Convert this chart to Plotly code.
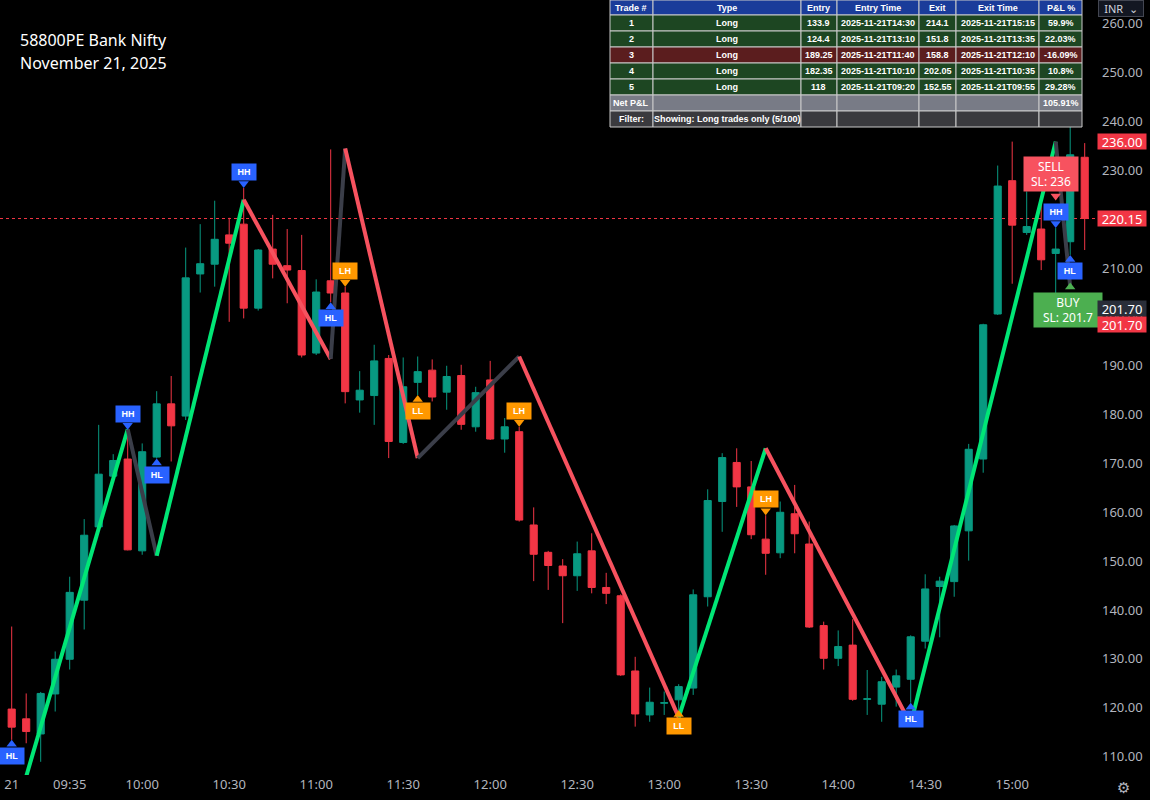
import plotly.graph_objects as go
import pandas as pd

# ---------------- data ----------------
bar_times = pd.date_range("2025-11-21 09:15", periods=75, freq="5min")

opens = [119.7, 117.7, 114.6, 122.8, 129.9, 142.0, 157.0, 167.4, 170.9, 152.1,
         171.3, 182.2, 179.7, 208.8, 210.8, 216.8, 219.0, 201.8, 213.9, 210.5,
         209.5, 192.6, 207.4, 204.9, 183.0, 183.9, 191.5, 174.3, 186.6, 189.1,
         184.6, 188.0, 177.5, 187.1, 175.0, 176.5, 157.4, 151.8, 149.0, 147.0,
         152.1, 144.6, 142.9, 127.5, 118.5, 120.9, 121.6, 124.0, 142.7, 162.2,
         170.2, 165.2, 154.5, 151.7, 159.7, 153.5, 136.8, 130.1, 132.8, 121.7,
         120.7, 124.2, 125.8, 133.6, 144.8, 145.8, 156.2, 170.9, 200.6, 227.9,
         217.3, 218.0, 213.0, 215.4, 232.7]
highs = [136.6, 122.9, 123.2, 131.5, 146.8, 158.6, 177.9, 171.9, 176.9, 174.1,
         184.8, 187.9, 214.2, 219.0, 223.8, 220.3, 226.4, 213.9, 220.9, 218.0,
         216.8, 207.7, 234.3, 206.2, 188.9, 194.3, 192.2, 191.7, 191.9, 191.3,
         190.0, 190.2, 185.7, 191.0, 179.3, 177.5, 161.0, 152.1, 150.4, 154.0,
         155.7, 147.6, 143.2, 130.4, 124.1, 123.3, 124.8, 144.2, 164.7, 172.1,
         173.1, 170.5, 159.4, 162.2, 165.6, 158.1, 137.6, 135.8, 138.1, 127.7,
         126.3, 127.8, 134.8, 147.3, 146.8, 157.4, 174.0, 198.6, 231.0, 235.9,
         225.7, 224.8, 218.2, 240.0, 235.6]
lows = [113.4, 112.7, 108.9, 119.2, 127.8, 136.0, 156.5, 167.0, 152.2, 151.3,
        171.0, 170.4, 178.9, 205.0, 206.2, 199.0, 199.7, 201.3, 207.9, 202.8,
        191.7, 192.2, 203.0, 182.3, 180.4, 177.9, 171.1, 174.0, 184.0, 182.7,
        181.0, 176.9, 176.5, 174.8, 172.2, 158.1, 145.9, 144.1, 137.3, 143.9,
        143.4, 141.2, 126.5, 116.1, 117.1, 118.5, 119.5, 122.6, 140.7, 156.0,
        161.1, 154.5, 147.2, 150.6, 151.6, 136.3, 127.8, 128.5, 121.4, 118.5,
        117.1, 120.2, 121.0, 132.1, 134.4, 142.7, 150.1, 168.1, 200.4, 206.8,
        216.8, 209.6, 201.7, 212.7, 213.7]
closes = [116.0, 115.1, 122.9, 129.9, 143.6, 155.3, 167.8, 170.6, 152.3, 172.4,
          182.2, 177.7, 208.0, 210.9, 215.9, 215.1, 201.8, 213.7, 210.8, 209.6,
          192.2, 205.1, 204.9, 184.7, 185.0, 191.0, 174.5, 185.7, 188.8, 183.6,
          187.8, 178.0, 184.5, 175.0, 177.5, 158.4, 151.4, 149.1, 147.0, 151.5,
          144.6, 143.4, 126.7, 118.7, 121.1, 121.0, 124.3, 143.1, 162.4, 171.2,
          165.2, 155.4, 151.6, 160.0, 155.6, 136.5, 130.1, 132.5, 121.7, 121.8,
          125.3, 126.5, 134.5, 144.3, 145.9, 157.2, 172.9, 198.4, 226.8, 218.8,
          218.5, 211.7, 213.9, 233.2, 220.15]

# zigzag pivots (bar index, price) and colour of the segment leaving each pivot
zz_bars = [1, 8, 10, 16, 22, 23, 28, 35, 46, 52, 62, 72, 73]
zz_prices = [105.9, 177.0, 151.1, 224.0, 191.4, 234.5, 171.1, 191.9, 118.0, 173.1, 116.6, 235.9, 206.2]
zz_seg_colors = ["up", "flat", "up", "down", "flat", "down", "flat", "down", "up", "down", "up", "flat"]

# market-structure labels
label_bars = [0, 8, 10, 16, 23, 22, 28, 35, 46, 52, 62, 72, 73]
label_texts = ["HL", "HH", "HL", "HH", "LH", "HL", "LL", "LH", "LL", "LH", "HL", "HH", "HL"]
label_sides = ["below", "above", "below", "above", "above", "below", "below", "above",
               "below", "above", "below", "above", "below"]

# signals
sell_bar, sell_text = 72, "SELL<br>SL: 236"
buy_bar, buy_text = 73, "BUY<br>SL: 201.7"

# right-axis price tags
tag_prices = [236.00, 220.15, 201.70]
tag_colors = ["#f23645", "#f23645", "#2a2e39"]
last_price = 220.15
stop_tag = 201.70

# trade table
trade_no = ["1", "2", "3", "4", "5"]
trade_type = ["Long", "Long", "Long", "Long", "Long"]
entry_px = ["133.9", "124.4", "189.25", "182.35", "118"]
entry_time = ["2025-11-21T14:30", "2025-11-21T13:10", "2025-11-21T11:40",
              "2025-11-21T10:10", "2025-11-21T09:20"]
exit_px = ["214.1", "151.8", "158.8", "202.05", "152.55"]
exit_time = ["2025-11-21T15:15", "2025-11-21T13:35", "2025-11-21T12:10",
             "2025-11-21T10:35", "2025-11-21T09:55"]
pnl_pct = ["59.9%", "22.03%", "-16.09%", "10.8%", "29.28%"]
net_pnl = "105.91%"
filter_text = "Showing: Long trades only (5/100)"
table_headers = ["Trade #", "Type", "Entry", "Entry Time", "Exit", "Exit Time", "P&L %"]

# axes
x_tick_times = ["2025-11-21 09:15", "2025-11-21 09:35", "2025-11-21 10:00", "2025-11-21 10:30",
                "2025-11-21 11:00", "2025-11-21 11:30", "2025-11-21 12:00", "2025-11-21 12:30",
                "2025-11-21 13:00", "2025-11-21 13:30", "2025-11-21 14:00", "2025-11-21 14:30",
                "2025-11-21 15:00"]
x_tick_text = ["21", "09:35", "10:00", "10:30", "11:00", "11:30", "12:00", "12:30",
               "13:00", "13:30", "14:00", "14:30", "15:00"]
y_ticks = [110, 120, 130, 140, 150, 160, 170, 180, 190, 200, 210, 220, 230, 240, 250, 260]

title_line1 = "58800PE Bank Nifty"
title_line2 = "November 21, 2025"

# ---------------- style ----------------
GREEN = "#089981"
RED = "#f23645"
ZZ = {"up": "#00e676", "down": "#f7525f", "flat": "#3b3e49"}
BLUE = "#2962ff"
ORANGE = "#ff9800"
AXIS_TXT = "#b2b5be"
W, H = 1150, 800
M = dict(l=0, r=55, t=0, b=25)
Y_RANGE = [106.2, 264.9]
X_RANGE = ["2025-11-21 09:10:58", "2025-11-21 15:28:33"]
plot_w = W - M["l"] - M["r"]
plot_h = H - M["t"] - M["b"]
ppx = (Y_RANGE[1] - Y_RANGE[0]) / plot_h  # price per pixel

fig = go.Figure()

shapes = [dict(type="line", xref="paper", x0=0, x1=1, yref="y", y0=last_price, y1=last_price,
               line=dict(color=RED, width=1, dash="dot"), layer="below")]

fig.add_trace(go.Candlestick(
    x=bar_times, open=opens, high=highs, low=lows, close=closes,
    increasing=dict(line=dict(color=GREEN, width=1), fillcolor=GREEN),
    decreasing=dict(line=dict(color=RED, width=1), fillcolor=RED),
    whiskerwidth=0, hoverinfo="skip", showlegend=False))

# zigzag
for k in range(len(zz_bars) - 1):
    fig.add_trace(go.Scatter(
        x=[bar_times[zz_bars[k]], bar_times[zz_bars[k + 1]]],
        y=[zz_prices[k], zz_prices[k + 1]],
        mode="lines", line=dict(color=ZZ[zz_seg_colors[k]], width=4),
        hoverinfo="skip", showlegend=False))

annotations = []

# structure labels
tri_x, tri_y, tri_sym, tri_col = [], [], [], []
for b, t, s in zip(label_bars, label_texts, label_sides):
    col = BLUE if t in ("HH", "HL") else ORANGE
    above = s == "above"
    ref = highs[b] if above else lows[b]
    annotations.append(dict(x=bar_times[b], y=ref, xref="x", yref="y", text="<b>%s</b>" % t,
                            showarrow=False, yanchor="bottom" if above else "top",
                            yshift=7 if above else -7, bgcolor=col,
                            font=dict(color="white", size=9, family="Liberation Sans"),
                            width=20, height=12, borderpad=2))
    tri_y.append(ref + 4.5 * ppx if above else ref - 4.5 * ppx)
    tri_sym.append("triangle-down" if above else "triangle-up")
    tri_x.append(bar_times[b])
    tri_col.append(col)

# signal labels
SELL_COL = "#f7525f"
BUY_COL = "#4caf50"
annotations.append(dict(x=bar_times[sell_bar], y=highs[sell_bar], xref="x", yref="y", text=sell_text,
                        showarrow=False, yanchor="bottom", yshift=36, xshift=-5, bgcolor=SELL_COL,
                        font=dict(color="white", size=12, family="Noto Sans"),
                        width=50, height=30, borderpad=2, align="center"))
tri_x.append(bar_times[sell_bar]); tri_y.append(highs[sell_bar] + 32 * ppx)
tri_sym.append("triangle-down"); tri_col.append(SELL_COL)
annotations.append(dict(x=bar_times[buy_bar], y=lows[buy_bar], xref="x", yref="y", text=buy_text,
                        showarrow=False, yanchor="top", yshift=-37, xshift=-2, bgcolor=BUY_COL,
                        font=dict(color="white", size=12, family="Noto Sans"),
                        width=64, height=30, borderpad=2, align="center"))
tri_x.append(bar_times[buy_bar]); tri_y.append(lows[buy_bar] - 32 * ppx)
tri_sym.append("triangle-up"); tri_col.append(BUY_COL)

fig.add_trace(go.Scatter(x=tri_x, y=tri_y, mode="markers",
                         marker=dict(symbol=tri_sym, color=tri_col, size=9, line=dict(width=0)),
                         hoverinfo="skip", showlegend=False))

# title text
annotations.append(dict(x=0, y=1, xref="paper", yref="paper", xanchor="left", yanchor="top",
                        xshift=18, yshift=-27, text=title_line1, showarrow=False, align="left",
                        font=dict(color="white", size=16, family="Noto Sans")))
annotations.append(dict(x=0, y=1, xref="paper", yref="paper", xanchor="left", yanchor="top",
                        xshift=18, yshift=-50, text=title_line2, showarrow=False, align="left",
                        font=dict(color="white", size=16, family="Noto Sans")))

# price tags on the right axis
for p, c, dy in zip(tag_prices + [stop_tag], tag_colors + ["#f23645"], [0, 0, 0, -16]):
    annotations.append(dict(x=1, y=p, xref="paper", yref="y", xanchor="left", yanchor="middle",
                            xshift=2, yshift=dy, text="%.2f" % p, showarrow=False, bgcolor=c,
                            font=dict(color="white", size=13, family="Noto Sans"),
                            width=46, height=13, borderpad=1))

# currency button + settings glyph
annotations.append(dict(x=1, y=1, xref="paper", yref="paper", xanchor="left", yanchor="top",
                        xshift=3, text="INR  ⌄", showarrow=False, bgcolor="#131722",
                        bordercolor="#434651", borderwidth=1, width=42, height=13,
                        font=dict(color="#d1d4dc", size=11, family="Noto Sans")))
annotations.append(dict(x=1, y=0, xref="paper", yref="paper", xanchor="left", yanchor="top",
                        xshift=20, yshift=-2, text="⚙", showarrow=False,
                        font=dict(color=AXIS_TXT, size=15, family="DejaVu Sans")))

# trade table drawn from shapes + text
row_fill = ["#5b1d1e" if v.startswith("-") else "#1d4622" for v in pnl_pct]
table_rows = [table_headers]
for i in range(len(trade_no)):
    table_rows.append([trade_no[i], trade_type[i], entry_px[i], entry_time[i],
                       exit_px[i], exit_time[i], pnl_pct[i]])
table_rows.append(["Net P&L", "", "", "", "", "", net_pnl])
table_rows.append(["Filter:", filter_text, "", "", "", "", ""])
table_fills = ["#1a3c9a"] + row_fill + ["#787b86", "#3a3a3e"]

TBL_X0 = 610
col_w = [43, 148, 36, 82, 37, 83, 43]
row_h = [15] + [16] * (len(table_rows) - 1)
py = 0
for r, row in enumerate(table_rows):
    px = TBL_X0
    for c, txt in enumerate(row):
        x0, x1 = px / plot_w, (px + col_w[c]) / plot_w
        y0, y1 = 1 - (py + row_h[r]) / plot_h, 1 - py / plot_h
        shapes.append(dict(type="rect", xref="paper", yref="paper", x0=x0, x1=x1, y0=y0, y1=y1,
                           fillcolor=table_fills[r], line=dict(color="#c9c9c9", width=1),
                           layer="above"))
        if txt:
            annotations.append(dict(x=(x0 + x1) / 2, y=(y0 + y1) / 2, xref="paper", yref="paper",
                                    text="<b>%s</b>" % txt, showarrow=False,
                                    xanchor="center", yanchor="middle",
                                    font=dict(color="white", size=9, family="Liberation Sans")))
        px += col_w[c]
    py += row_h[r]

fig.update_layout(
    width=W, height=H, margin=M, paper_bgcolor="#000000", plot_bgcolor="#000000",
    showlegend=False, annotations=annotations, shapes=shapes, hovermode=False,
    xaxis=dict(type="date", range=X_RANGE, rangeslider=dict(visible=False), showgrid=False,
               zeroline=False, showline=False, ticks="", tickvals=x_tick_times, ticktext=x_tick_text,
               tickfont=dict(color=AXIS_TXT, size=13, family="Noto Sans")),
    yaxis=dict(side="right", range=Y_RANGE, showgrid=False, zeroline=False, showline=False,
               ticks="", tickvals=y_ticks, ticktext=["%.2f" % v for v in y_ticks],
               ticklabelstandoff=6,
               tickfont=dict(color=AXIS_TXT, size=13, family="Noto Sans")),
)

fig.write_html("out.html", config={"displayModeBar": False},
               post_script="document.body.style.margin='0px';")
